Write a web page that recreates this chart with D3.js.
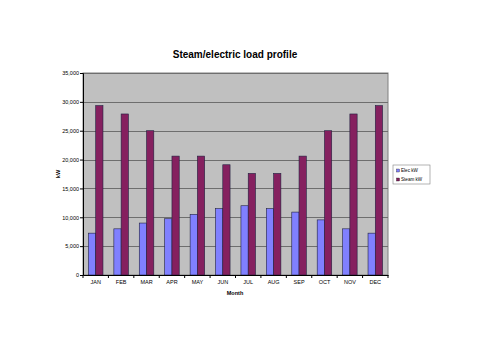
<!DOCTYPE html>
<html><head><meta charset="utf-8">
<script src="https://cdn.jsdelivr.net/npm/d3@7"></script>
<style>body{margin:0;background:#fff}svg{display:block;font-family:Arial,"Liberation Sans",sans-serif}</style>
</head><body>
<svg id="c" width="485" height="350"></svg>
<script>
const months = ["JAN","FEB","MAR","APR","MAY","JUN","JUL","AUG","SEP","OCT","NOV","DEC"];
const elecKW = [7250,8000,9000,9750,10500,11500,12000,11500,10900,9550,8000,7250];
const steamKW = [29350,27900,25000,20600,20600,19100,17600,17600,20600,25000,27900,29350];
const seriesNames = ["Elec kW","Steam kW"];
const yTicks = [0,5000,10000,15000,20000,25000,30000,35000];
const colors = ["#8080ff","#85205f"];

const svg = d3.select("#c");
const L=83,R=388,T=73,B=275;
const x = d3.scaleBand().domain(months).range([L,R]).paddingInner(0).paddingOuter(0);
const y = d3.scaleLinear().domain([0,35000]).range([B,T]);

svg.append("rect").attr("x",L).attr("y",T).attr("width",R-L).attr("height",B-T).attr("fill","#c0c0c0").attr("stroke","#808080").attr("stroke-width",1);

svg.append("g").selectAll("line").data(yTicks.slice(1)).join("line")
 .attr("x1",L).attr("x2",R).attr("y1",d=>Math.round(y(d))+0.5).attr("y2",d=>Math.round(y(d))+0.5)
 .attr("stroke","#6e6e6e").attr("stroke-width",1);

const bw = x.bandwidth()/3.5;
const data = [elecKW, steamKW];
data.forEach((vals,si)=>{
  svg.append("g").selectAll("rect").data(months).join("rect")
   .attr("x",(m)=>x(m)+bw*0.75+si*bw)
   .attr("y",(m,i)=>y(vals[i]))
   .attr("width",bw)
   .attr("height",(m,i)=>B-y(vals[i]))
   .attr("fill",colors[si]).attr("stroke","#202040").attr("stroke-width",0.6);
});

// axes
const ya = d3.axisLeft(y).tickValues(yTicks).tickSize(3).tickFormat(d3.format(","));
const gy = svg.append("g").attr("transform",`translate(${L},0)`).call(ya);
gy.selectAll("text").attr("font-size",5.5).attr("fill","#000").attr("x",-4);
gy.selectAll("line").attr("stroke","#000");
gy.select(".domain").attr("stroke","#000");

const xa = d3.axisBottom(x).tickSize(0);
const gx = svg.append("g").attr("transform",`translate(0,${B})`).call(xa);
gx.selectAll("text").attr("font-size",5.5).attr("fill","#000").attr("dy","0").attr("y",9);
gx.select(".domain").attr("stroke","#000");
gx.selectAll(".sep").data(months.concat(["_end"])).join("line").attr("class","sep")
 .attr("x1",(d,i)=>L+i*x.bandwidth()).attr("x2",(d,i)=>L+i*x.bandwidth())
 .attr("y1",0).attr("y2",3).attr("stroke","#000");

svg.append("text").attr("x",235).attr("y",58).attr("text-anchor","middle").attr("font-size",10).attr("font-weight","bold").text("Steam/electric load profile");
svg.append("text").attr("x",235).attr("y",295).attr("text-anchor","middle").attr("font-size",5.5).attr("font-weight","bold").text("Month");
svg.append("text").attr("transform","translate(60,174) rotate(-90)").attr("text-anchor","middle").attr("font-size",5.5).attr("font-weight","bold").text("kW");

// legend
const lg = svg.append("g").attr("transform","translate(393,165)");
lg.append("rect").attr("width",37).attr("height",19).attr("fill","#fff").attr("stroke","#808080").attr("stroke-width",0.6);
seriesNames.forEach((n,i)=>{
  lg.append("rect").attr("x",3.5).attr("y",4+i*9).attr("width",3).attr("height",3).attr("fill",colors[i]).attr("stroke","#000").attr("stroke-width",0.3);
  lg.append("text").attr("x",8).attr("y",7.3+i*9).attr("font-size",4.6).text(n);
});
</script>
</body></html>
